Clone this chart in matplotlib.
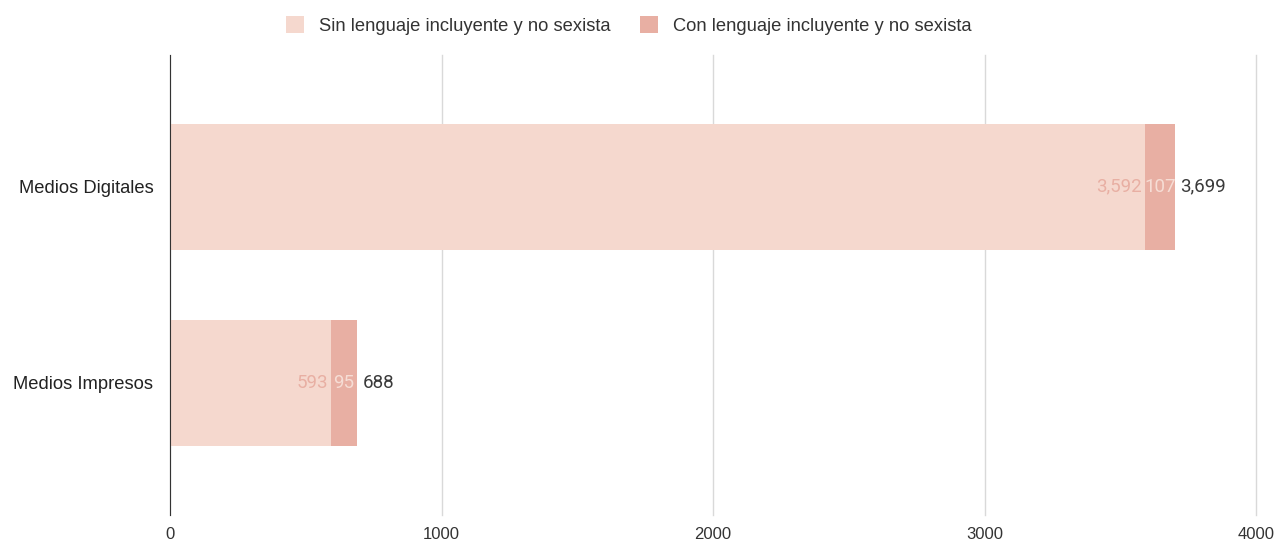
import matplotlib
matplotlib.use("Agg")
import matplotlib.pyplot as plt
import numpy as np

categories = ["Medios Digitales", "Medios Impresos"]
sin_lenguaje = [3592, 593]
con_lenguaje = [107, 95]
totals = [3699, 688]
xticks = [0, 1000, 2000, 3000, 4000]

light = "#F5D8CE"
dark = "#E8AFA3"

fig = plt.figure(figsize=(12.78, 5.42), dpi=100)
ax = fig.add_axes([0.133, 0.050, 0.850, 0.849])

y = np.array([1, 0])
h = 0.643
ax.barh(y, sin_lenguaje, height=h, color=light, label="Sin lenguaje incluyente y no sexista", zorder=2)
ax.barh(y, con_lenguaje, left=sin_lenguaje, height=h, color=dark, label="Con lenguaje incluyente y no sexista", zorder=2)

lab_font = dict(family=["Roboto", "DejaVu Sans"], fontsize=13.5, va="center")
for yi, s, c, t in zip(y, sin_lenguaje, con_lenguaje, totals):
    ax.text(s - 12, yi, f"{s:,}", ha="right", color=dark, **lab_font)
    ax.text(s + c / 2, yi, f"{c:,}", ha="center", color="#F6DDD5", **lab_font)
    ax.text(t + 22, yi, f"{t:,}", ha="left", color="#3a3a3a", **lab_font)

ax.set_xlim(0, 4000)
ax.set_ylim(-0.673, 1.673)
ax.set_xticks(xticks)
ax.set_xticklabels([str(v) for v in xticks], family=["Liberation Sans"], fontsize=12, color="#333333")
ax.set_yticks(y)
ax.set_yticklabels(categories, family=["Liberation Sans"], fontsize=13.2, color="#222222")
ax.tick_params(axis="x", length=0, pad=9)
ax.tick_params(axis="y", length=0, pad=12)
ax.grid(axis="x", color="#d9d9d9", linewidth=1, zorder=0)
for gl in ax.get_xgridlines():
    gl.set_clip_on(False)
for sp in ["top", "right", "bottom"]:
    ax.spines[sp].set_visible(False)
ax.spines["left"].set_color("#333333")
ax.spines["left"].set_zorder(3)

fig.legend(loc="upper center", bbox_to_anchor=(0.492, 1.0), ncol=2, frameon=False,
           prop={"family": "Liberation Sans", "size": 13.2}, handlelength=1.0, handleheight=1.0,
           columnspacing=1.6, handletextpad=0.8, labelcolor="#333333")

fig.savefig("out.png", dpi=100)
